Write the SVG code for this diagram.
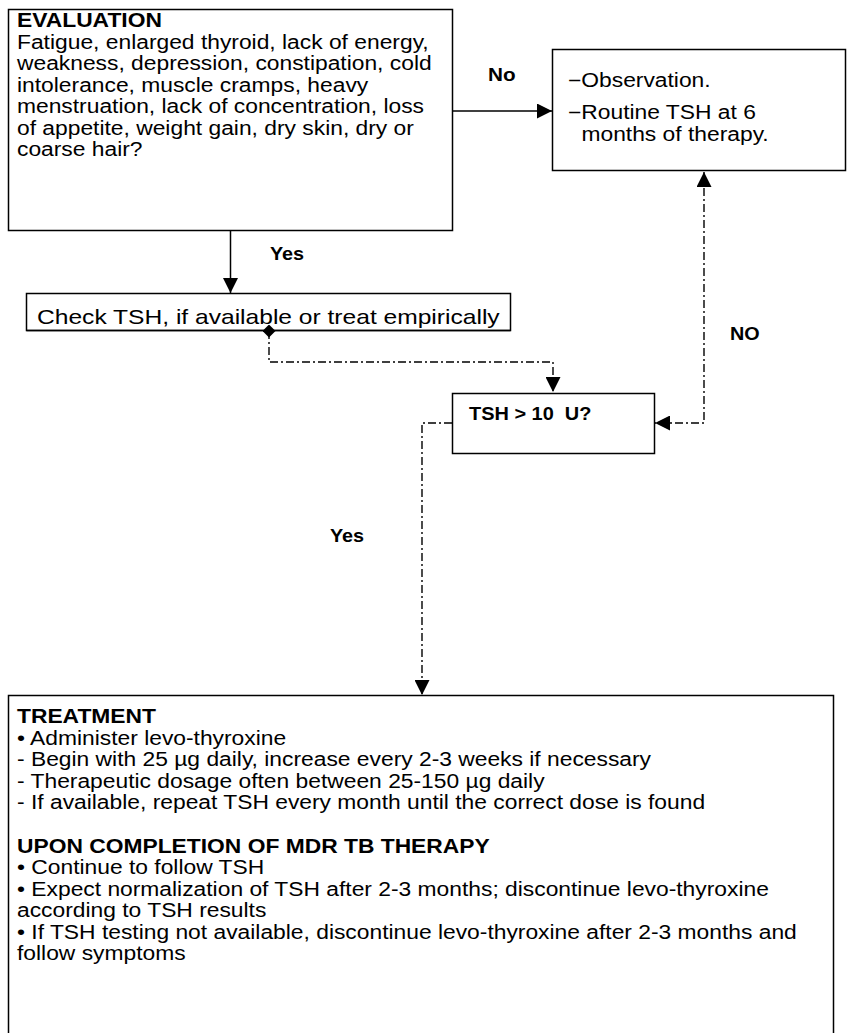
<svg xmlns="http://www.w3.org/2000/svg" width="849" height="1033" viewBox="0 0 849 1033">
<style>
.box{fill:#fff;stroke:#000;stroke-width:1.5}
.t{font-family:"Liberation Sans",Arial,sans-serif;font-size:19.5px;fill:#000}
.b{font-weight:bold}
.lb{font-size:18px}
.solid{fill:none;stroke:#000;stroke-width:1.5}
.dd{fill:none;stroke:#000;stroke-width:1.4;stroke-dasharray:8 3 2 3}
</style>
<defs>
<marker id="ah" viewBox="0 0 10 10" refX="10" refY="5" markerWidth="16" markerHeight="15" markerUnits="userSpaceOnUse" orient="auto-start-reverse"><path d="M0,0 L10,5 L0,10 Z" fill="#000"/></marker>
<marker id="dm" viewBox="0 0 10 10" refX="5" refY="5" markerWidth="13" markerHeight="13" markerUnits="userSpaceOnUse" orient="auto"><path d="M0,5 L5,0 L10,5 L5,10 Z" fill="#000"/></marker>
<clipPath id="cc"><rect x="27" y="293" width="484" height="35"/></clipPath>
</defs>

<g id="evaluation">
<rect class="box" x="8.5" y="9.5" width="444" height="221"/>
<g transform="translate(17,0) scale(1.17,1)">
<text class="t b" x="0" y="27.5">EVALUATION</text>
<text class="t" x="0" y="49">Fatigue, enlarged thyroid, lack of energy,</text>
<text class="t" x="0" y="70.5">weakness, depression, constipation, cold</text>
<text class="t" x="0" y="92">intolerance, muscle cramps, heavy</text>
<text class="t" x="0" y="113.5">menstruation, lack of concentration, loss</text>
<text class="t" x="0" y="135">of appetite, weight gain, dry skin, dry or</text>
<text class="t" x="0" y="156.5">coarse hair?</text>
</g>
</g>

<g id="observation">
<rect class="box" x="552.5" y="49.5" width="293" height="121"/>
<g transform="translate(568,0) scale(1.17,1)">
<text class="t" x="0" y="87.5">−Observation.</text>
<text class="t" x="0" y="119.5">−Routine TSH at 6</text>
<text class="t" x="11.5" y="141">months of therapy.</text>
</g>
</g>

<g id="check">
<rect class="box" x="26.5" y="293.5" width="484" height="37"/>
<g clip-path="url(#cc)">
<g transform="translate(37,0) scale(1.2,1)">
<text class="t" x="0" y="324.5" style="font-size:20.5px">Check TSH, if available or treat empirically</text>
</g>
</g>
<line x1="26.5" y1="330.5" x2="510.5" y2="330.5" stroke="#000" stroke-width="1.5"/>
</g>

<g id="tsh">
<rect class="box" x="452.5" y="393.5" width="202" height="60"/>
<g transform="translate(469,0) scale(1.05,1)">
<text class="t b" x="0" y="420" style="font-size:19px" xml:space="preserve">TSH &gt; 10  U?</text>
</g>
</g>

<g id="treatment">
<rect class="box" x="8.5" y="695.5" width="825" height="345"/>
<g transform="translate(17,0) scale(1.17,1)">
<text class="t b" x="0" y="723.5">TREATMENT</text>
<text class="t" x="0" y="745">• Administer levo-thyroxine</text>
<text class="t" x="0" y="766.5">- Begin with 25 µg daily, increase every 2-3 weeks if necessary</text>
<text class="t" x="0" y="788">- Therapeutic dosage often between 25-150 µg daily</text>
<text class="t" x="0" y="809.5">- If available, repeat TSH every month until the correct dose is found</text>
<text class="t b" x="0" y="853">UPON COMPLETION OF MDR TB THERAPY</text>
<text class="t" x="0" y="874.5">• Continue to follow TSH</text>
<text class="t" x="0" y="896">• Expect normalization of TSH after 2-3 months; discontinue levo-thyroxine</text>
<text class="t" x="0" y="917.5">according to TSH results</text>
<text class="t" x="0" y="939">• If TSH testing not available, discontinue levo-thyroxine after 2-3 months and</text>
<text class="t" x="0" y="960.5">follow symptoms</text>
</g>
</g>

<g id="connectors">
<line class="solid" x1="452" y1="111" x2="552" y2="111" marker-end="url(#ah)"/>
<line class="solid" x1="230.5" y1="231" x2="230.5" y2="293" marker-end="url(#ah)"/>
<polyline class="dd" points="269,331 269,362 553,362 553,392" marker-start="url(#dm)" marker-end="url(#ah)"/>
<polyline class="dd" points="704,172 704,423 655,423" marker-start="url(#ah)" marker-end="url(#ah)"/>
<polyline class="dd" points="452,423 422,423 422,695" marker-end="url(#ah)"/>
</g>

<g id="labels">
<g transform="translate(488,0) scale(1.15,1)"><text class="t b lb" x="0" y="81">No</text></g>
<g transform="translate(270,0) scale(1.1,1)"><text class="t b lb" x="0" y="260">Yes</text></g>
<g transform="translate(730,0) scale(1.1,1)"><text class="t b lb" x="0" y="340">NO</text></g>
<g transform="translate(330,0) scale(1.1,1)"><text class="t b lb" x="0" y="542">Yes</text></g>
</g>
</svg>
